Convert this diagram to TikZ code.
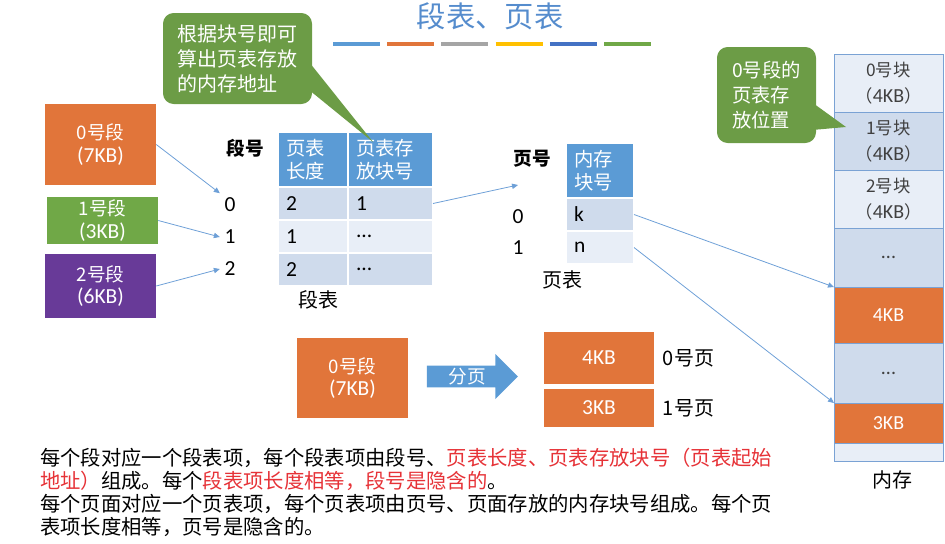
\documentclass[tikz,border=0pt]{standalone}
\usepackage{fontspec}
\setmainfont{Noto Sans CJK SC}
\newfontfamily\latinfont[Scale=1.15]{Carlito}
\usepackage{xcolor}
\usetikzlibrary{calc, positioning, arrows.meta, shapes.arrows}

\definecolor{hdrblue}{RGB}{91,155,213}
\definecolor{rowdark}{RGB}{207,219,236}
\definecolor{rowlight}{RGB}{232,238,247}
\definecolor{orangebox}{RGB}{225,117,58}
\definecolor{greenbox}{RGB}{112,168,71}
\definecolor{purplebox}{RGB}{104,58,152}
\definecolor{notegreen}{RGB}{108,156,70}
\definecolor{linkblue}{RGB}{110,160,215}
\definecolor{memedge}{RGB}{122,162,212}
\definecolor{titleblue}{RGB}{85,140,205}
\definecolor{hot}{RGB}{230,50,55}
\definecolor{memtext}{RGB}{64,64,64}
\definecolor{dashgray}{RGB}{165,165,165}
\definecolor{dashgold}{RGB}{255,192,0}
\definecolor{dashnavy}{RGB}{68,114,196}

\tikzset{
	node distance = 0pt,
	line width = .75pt,
	>={Triangle[length=4.5pt,width=4pt]},
	link/.style={
		->,
		draw=linkblue,
		line width=.6pt
	},
	segbox/.style={
		minimum width=83.25pt,
		text=white,
		align=center,
		inner sep=0pt,
		font=\fontsize{14}{17}\selectfont
	},
	cell/.style={
		draw=white,
		line width=1pt,
		outer sep=0pt,
		inner xsep=6pt,
		inner ysep=0pt,
		align=left,
		text width=#1
	},
	hcell/.style={
		fill=hdrblue,
		text=white,
		minimum height=41.25pt,
		font=\fontsize{14.5}{17}\selectfont
	},
	rcell/.style={
		minimum height=24.75pt,
		font=\latinfont\fontsize{14}{17}\selectfont
	},
	mem/.style={
		draw=memedge,
		line width=.75pt,
		outer sep=0pt,
		minimum width=81.75pt,
		inner sep=0pt,
		align=center,
		text=memtext,
		font=\fontsize{13}{19}\selectfont
	},
	note/.style={
		fill=notegreen,
		rounded corners=8pt,
		text=white,
		align=left,
		inner sep=0pt,
		font=\fontsize{15}{18.75}\selectfont
	},
	lbl/.style={
		font=\fontsize{15}{17}\selectfont
	},
	num/.style={
		font=\latinfont\fontsize{14}{17}\selectfont
	}
}

\begin{document}
\begin{tikzpicture}[x=.75pt, y=-.75pt]
\useasboundingbox (0,0) rectangle (945,543);

% title
\node[text=titleblue, font=\fontsize{22}{26}\selectfont] (title) at (490,16) {段表、页表};
\foreach \c [count=\i from 0] in {hdrblue, orangebox, dashgray, dashgold, dashnavy, greenbox}
	\draw[\c, line width=3pt] (333+54.2*\i,44) -- ++(47,0);

% segments
\node[segbox, fill=orangebox, minimum height=60.75pt] (seg0) at (100.5,144.5) {0号段\\\latinfont(7KB)};
\node[segbox, fill=greenbox, minimum height=35.25pt] (seg1) at (102.5,220.5) {1号段\\\latinfont(3KB)};
\node[segbox, fill=purplebox, minimum height=48pt] (seg2) at (100.5,286) {2号段\\\latinfont(6KB)};

\node[lbl, font=\bfseries\fontsize{14}{17}\selectfont] (segno) at (245,148) {段号};
\node[num] (lab0) at (230,205) {0};
\node[num] (lab1) at (230,237) {1};
\node[num] (lab2) at (230,269) {2};

\draw[link] (seg0.east) to (lab0.north west);
\draw[link] (seg1.east) to (lab1.west);
\draw[link] (seg2.east) to (lab2.west);

% segment table
\node[cell=40.5pt, hcell, anchor=north west] (sha) at (278,132) {页表\\长度};
\node[cell=51.75pt, hcell, right=of sha] (shb) {页表存\\放块号};
\node[cell=40.5pt, rcell, fill=rowdark, below=of sha] (s0a) {2};
\node[cell=51.75pt, rcell, fill=rowdark, right=of s0a] (s0b) {1};
\node[cell=40.5pt, rcell, fill=rowlight, below=of s0a] (s1a) {1};
\node[cell=51.75pt, rcell, fill=rowlight, right=of s1a] (s1b) {...};
\node[cell=40.5pt, rcell, fill=rowdark, below=of s1a] (s2a) {2};
\node[cell=51.75pt, rcell, fill=rowdark, right=of s2a] (s2b) {...};
\node[lbl] (segtab) at (318,300) {段表};

% page table
\node[lbl, font=\bfseries\fontsize{14}{17}\selectfont] (pgno) at (532,159) {页号};
\node[cell=39pt, hcell, anchor=north west] (ph) at (566,143) {内存\\块号};
\node[cell=39pt, rcell, fill=rowdark, below=of ph] (p0) {k};
\node[cell=39pt, rcell, fill=rowlight, below=of p0] (p1) {n};
\node[num] (plab0) at (518,217) {0};
\node[num] (plab1) at (518,248) {1};
\node[lbl] (pgtab) at (562,280) {页表};
\coordinate (ptin) at (518,185);

\draw[link] (s0b.east) to (ptin);

% memory
\node[mem, fill=rowlight, minimum height=43.5pt, anchor=north] (m0) at (888.5,54) {0号块\\（{\latinfont 4KB}）};
\node[mem, fill=rowdark, minimum height=43.5pt, below=of m0] (m1) {1号块\\（{\latinfont 4KB}）};
\node[mem, fill=rowlight, minimum height=43.5pt, below=of m1] (m2) {2号块\\（{\latinfont 4KB}）};
\node[mem, fill=rowdark, minimum height=44.25pt, below=of m2] (m3) {\latinfont ...};
\node[mem, fill=orangebox, text=white, minimum height=42pt, below=of m3] (m4) {\latinfont 4KB};
\node[mem, fill=rowdark, minimum height=45pt, below=of m4] (m5) {\latinfont ...};
\node[mem, fill=orangebox, text=white, minimum height=30pt, below=of m5] (m6) {\latinfont 3KB};
\node[mem, fill=rowlight, minimum height=13.5pt, below=of m6] (m7) {};
\node[lbl] (memlab) at (892,480) {内存};

\draw[link] (p0.east) to (m3.south west);
\draw[link] (p1.east) to (m6.north west);

% callouts
\node[note, minimum width=111.75pt, minimum height=68.25pt] (note1) at (237.5,58.5) {根据块号即可\\算出页表存放\\的内存地址};
\fill[notegreen] ($(note1.north east)+(-1,52)$) -- ($(shb.north west)+(25,10)$) -- ($(note1.north east)+(-1,79)$) -- cycle;
\node[note, minimum width=74.25pt, minimum height=72pt, font=\fontsize{14.5}{18.75}\selectfont] (note2) at (766.5,95) {0号段的\\页表存\\放位置};
\fill[notegreen] ($(note2.north east)+(-1,58)$) -- ($(m1.west)+(12,-14)$) -- ($(note2.north east)+(-1,83)$) -- cycle;

% paging
\node[segbox, fill=orangebox, minimum height=60pt] (whole) at (352.5,378) {0号段\\\latinfont(7KB)};
\node[single arrow, fill=hdrblue, text=white, minimum height=68.25pt, minimum width=33.75pt, inner sep=0pt, font=\fontsize{14}{16}\selectfont] (split) at (467,376.5) {分页};
\node[segbox, fill=orangebox, minimum width=82.5pt, minimum height=39pt, font=\latinfont\fontsize{14}{16}\selectfont] (pg0) at (599,358) {4KB};
\node[segbox, fill=orangebox, minimum width=82.5pt, minimum height=28.5pt, font=\latinfont\fontsize{14}{16}\selectfont] (pg1) at (599,408) {3KB};
\node[lbl, right=3pt of pg0] (pg0lab) {0号页};
\node[lbl, right=3pt of pg1] (pg1lab) {1号页};

% notes below
\node[lbl, anchor=north west, align=left, inner sep=0pt, font=\fontsize{15.25}{17.25}\selectfont] (desc) at (40,448) {每个段对应一个段表项，每个段表项由段号、\textcolor{hot}{页表长度、页表存放块号（页表起始}\\\textcolor{hot}{地址）}组成。每个\textcolor{hot}{段表项长度相等，段号是隐含的}。\\每个页面对应一个页表项，每个页表项由页号、页面存放的内存块号组成。每个页\\表项长度相等，页号是隐含的。};
\end{tikzpicture}
\end{document}
